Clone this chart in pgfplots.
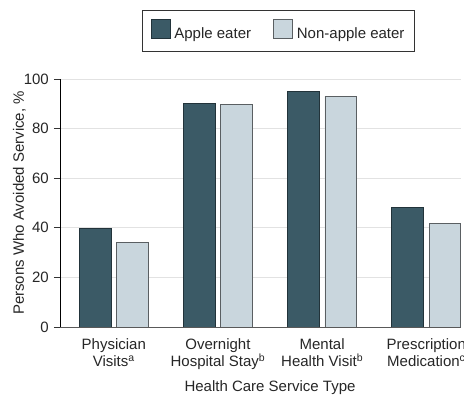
\documentclass[border=0pt]{standalone}
\usepackage{fontspec}
\setmainfont{Liberation Sans}
\usepackage{pgfplots}
\pgfplotsset{compat=1.18}
\definecolor{apple}{HTML}{3B5A66}
\definecolor{appleedge}{HTML}{22333A}
\definecolor{nonapple}{HTML}{C9D6DD}
\definecolor{nonappleedge}{HTML}{5A5F62}
\definecolor{gridgray}{HTML}{E2E2E2}
\begin{document}
\fontsize{15pt}{17.7pt}\selectfont
\begin{tikzpicture}
\begin{axis}[
  at={(0pt,0pt)}, anchor=south west,
  scale only axis, width=401pt, height=248pt,
  ymin=0, ymax=100, xmin=-0.5165, xmax=3.333,
  ybar=5.7pt, bar width=31.7pt,
  axis x line*=bottom, axis y line*=left,
  axis line style={-},
  x axis line style={draw=black!65, line width=0.9pt},
  y axis line style={draw=black, line width=0.8pt},
  ytick={0,20,40,60,80,100},
  ymajorgrids, grid style={gridgray, line width=0.8pt},
  tick align=outside, major tick length=6pt,
  ytick style={draw=black!80, line width=0.8pt},
  xtick={0,1,2,3},
  xticklabels={{Physician\\Visits\textsuperscript{a}},{Overnight\\Hospital Stay\textsuperscript{b}},{Mental\\Health Visit\textsuperscript{b}},{Prescription\\Medication\textsuperscript{c}}},
  xtick style={draw=none},
  xticklabel style={align=center, font=\fontsize{15pt}{17.7pt}\selectfont, text=black!85},
  yticklabel style={font=\fontsize{15pt}{17.7pt}\selectfont, text=black!85},
  /pgf/number format/assume math mode=true,
  xlabel={Health Care Service Type},
  xlabel style={at={(axis description cs:0.5237,-0.2621)}, anchor=base, text=black!85},
  ylabel={Persons Who Avoided Service, \%},
  ylabel style={at={(axis description cs:-0.0898,0.5)}, anchor=base, rotate=0, text=black!85},
  legend columns=2,
  legend style={at={(axis description cs:0.545,1.1935)}, anchor=center, draw=black!80, line width=0.8pt,
    font=\fontsize{15pt}{17.7pt}\selectfont, text=black!85,
    inner xsep=8pt, inner ysep=8.5pt,
    /tikz/every odd column/.append style={column sep=2pt},
    /tikz/every even column/.append style={column sep=20pt}},
]
\addplot[fill=apple, draw=appleedge, line width=0.8pt,
  legend image code/.code={\draw[fill=apple, draw=appleedge, line width=0.8pt] (0pt,-4pt) rectangle (19pt,14.5pt);}]
  coordinates {(0,39.6) (1,90.2) (2,94.8) (3,48.3)};
\addlegendentry{Apple eater}
\addplot[fill=nonapple, draw=nonappleedge, line width=0.8pt,
  legend image code/.code={\draw[fill=nonapple, draw=nonappleedge, line width=0.8pt] (0pt,-4pt) rectangle (19pt,14.5pt);}]
  coordinates {(0,34.0) (1,89.6) (2,93.1) (3,41.7)};
\addlegendentry{Non-apple eater}
\end{axis}
\pgfresetboundingbox
\path (-60pt,-74pt) rectangle (404pt,327pt);
\end{tikzpicture}
\end{document}
